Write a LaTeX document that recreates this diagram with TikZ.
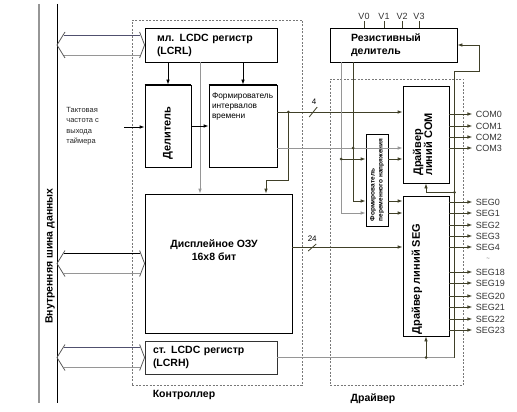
\documentclass[tikz,border=0pt]{standalone}
\usepackage{fontspec}
\setmainfont{Liberation Sans}
\usetikzlibrary{arrows.meta}
\usetikzlibrary{calc}
\usetikzlibrary{positioning}

\definecolor{wire}{RGB}{64,64,40}
\definecolor{graywire}{RGB}{150,150,150}
\definecolor{busdark}{RGB}{80,80,110}
\definecolor{framegray}{RGB}{120,120,120}

\tikzset{
	blk/.style={draw, inner sep=0pt},
	regbox/.style={draw, align=left, inner ysep=0pt, font=\bfseries\fontsize{10.5}{13}\selectfont},
	boldtxt/.style={inner sep=0pt, font=\bfseries\fontsize{10.5}{13}\selectfont},
	vtxt/.style={rotate=90, align=left, inner sep=0pt, font=\bfseries\fontsize{11}{11}\selectfont},
	smalltxt/.style={align=left, inner sep=0pt, font=\fontsize{8.3}{10}\selectfont},
	outlbl/.style={anchor=west, inner sep=0pt, xshift=3pt, text=black!80, font=\fontsize{9}{9}\selectfont},
	frame/.style={draw=framegray, dash pattern=on 2pt off 1.5pt},
	dot/.style={fill, circle, inner sep=0pt, minimum size=3pt},
}

\begin{document}
\begin{tikzpicture}[x=1pt, y=-1pt, line width=0.8pt, line join=miter, >={Latex[length=5pt,width=3.6pt]}]
	\useasboundingbox (0,0) rectangle (517,412);

	% frames
	\node[frame, minimum width=170pt, minimum height=365pt] (ctrl) at (217,202.5) {};
	\node[frame, minimum width=133pt, minimum height=306pt] (drv) at (396.5,232) {};
	\node[boldtxt] (ctrllbl) at ($(ctrl.south)+(-33,9.5)$) {Контроллер};
	\node[boldtxt] (drvlbl) at ($(drv.south)+(-23.5,13)$) {Драйвер};

	% bus
	\coordinate (busT) at (57,4);
	\coordinate (busB) at (57,403);
	\draw[graywire, line width=2pt] ($(busT)+(-18,0)$) -- ($(busB)+(-18,0)$);
	\draw (busT) -- (busB);
	\node[rotate=90, boldtxt] (buslbl) at (50,256) {Внутренняя шина данных};

	% controller blocks
	\node[regbox, minimum width=132pt, minimum height=34pt, inner xsep=12pt, text width=108pt] (lcrl) at (211,45) {мл. LCDC регистр\\(LCRL)};
	\node[blk, minimum width=46pt, minimum height=82pt] (del) at (168,126) {};
	\node[vtxt] (deltxt) at (168,133) {Делитель};
	\node[blk, minimum width=68pt, minimum height=82pt] (ftime) at (243,126) {};
	\node[smalltxt, anchor=north west] (ftimetxt) at ($(ftime.north west)+(3,8)$) {Формирователь\\интервалов\\времени};
	\draw[line width=2pt] (del.north west) -- (del.north east);
	\draw[line width=2pt] (ftime.north west) -- (ftime.north east);
	\node[blk, minimum width=147pt, minimum height=139pt] (ram) at (218.5,263.5) {};
	\node[boldtxt, align=center] (ramtxt) at (214,250) {Дисплейное ОЗУ\\16x8 бит};
	\node[regbox, draw=black!80, minimum width=132pt, minimum height=33pt, inner xsep=8pt, text width=116pt] (lcrh) at (211,357.5) {ст. LCDC регистр\\(LCRH)};

	% driver blocks
	\node[regbox, minimum width=127pt, minimum height=34pt, inner xsep=21pt, text width=85pt] (rdiv) at (393.5,45) {Резистивный\\делитель};
	\node[blk, minimum width=46pt, minimum height=97pt] (com) at (426,134.5) {};
	\node[vtxt] (comtxt) at (422.5,144.5) {Драйвер\\линий COM};
	\node[blk, minimum width=22pt, minimum height=92pt] (fvolt) at (377,180) {};
	\node[vtxt, font=\bfseries\fontsize{6.5}{8}\selectfont] (fvolttxt) at (fvolt) {Формирователь\\переменного напряжения};
	\node[blk, minimum width=46pt, minimum height=140pt] (seg) at (426,266) {};
	\node[vtxt] (segtxt) at (417,279) {Драйвер линий SEG};

	% bus arrows
	\foreach \b/\c in {lcrl/busdark, ram/black, lcrh/busdark}{
		\coordinate (tip) at (busT |- \b.west);
		\draw[\c] ($(tip)+(7,-10)$) -- ($(\b.west)+(-5,-10)$);
		\draw[graywire] ($(tip)+(7,10)$) -- ($(\b.west)+(-5,10)$);
		\draw[black!65] ($(tip)+(8,-13)$) -- (tip) -- ($(tip)+(8,13)$);
		\draw[black!65] ($(\b.west)+(-5,-13)$) -- (\b.west) -- ($(\b.west)+(-5,13)$);
	}

	% clock input
	\node[smalltxt, anchor=north west, text=black!85, font=\fontsize{7.5}{10.3}\selectfont] (clktxt) at (66,107) {Тактовая\\частота с\\выхода\\таймера};
	\coordinate (clkin) at (124,127);
	\draw[->] (clkin) -- (clkin -| del.west);

	% controller wiring
	\draw[->] (lcrl.south -| del.north) -- (del.north);
	\draw[->] (lcrl.south -| ftime.north) -- (ftime.north);
	\coordinate (lr) at ($(lcrl.south)+(-11,0)$);
	\draw[->, graywire] (lr) -- (lr |- ram.north);
	\draw[->] (del.east) -- (ftime.west);

	% timer outputs
	\coordinate (f1) at ($(ftime.east)+(0,-14)$);
	\coordinate (f2) at ($(ftime.east)+(0,22)$);
	\draw[->, wire] (f1) -- (f1 -| com.west) coordinate[pos=0.286] (s4);
	\draw[wire] ($(s4)+(-4,5)$) -- ($(s4)+(4,-5)$);
	\node[inner sep=0pt, font=\fontsize{8}{8}\selectfont] (n4) at ($(s4)+(1,-10)$) {4};
	\node[dot, wire] (d1) at ($(f1)+(11,0)$) {};
	\draw[->, wire] (d1.center) -- ++(0,68) -| ([xshift=47.5pt]ram.north);
	\draw[->, graywire] (f2) -- (f2 -| com.west);

	% resistive divider taps
	\coordinate (r1) at ($(rdiv.south)+(-52.5,0)$);
	\coordinate (r2) at ($(rdiv.south)+(-40.5,0)$);
	\draw[->, wire] (r2) |- ([yshift=-21pt]fvolt.west);
	\node[dot, wire] (d2) at (r2 |- f2) {};
	\draw[->, graywire] (r1) |- ([yshift=-33pt]fvolt.west);
	\coordinate (fv1) at ([yshift=21pt]fvolt.west);
	\node[dot, wire] (d3) at (r1 |- fv1) {};
	\draw[->, wire] (d3.center) -- (fv1);

	% voltage former outputs
	\coordinate (fo1) at ([yshift=21pt]fvolt.east);
	\coordinate (fo2) at ([yshift=-21pt]fvolt.east);
	\coordinate (fo3) at ([yshift=-33pt]fvolt.east);
	\draw[->, wire] (fo1) -- (fo1 -| com.west);
	\draw[->, wire] (fo2) -- (fo2 -| seg.west);
	\draw[->, wire] (fo3) -- (fo3 -| seg.west);

	% RAM to SEG
	\coordinate (m1) at ([yshift=16.5pt]ram.east);
	\draw[->, wire] (m1) -- (m1 -| seg.west) coordinate[pos=0.18] (s24);
	\draw[wire] ($(s24)+(-4,4)$) -- ($(s24)+(4,-3)$);
	\node[inner sep=0pt, font=\fontsize{8}{8}\selectfont] (n24) at ($(s24)+(0,-8)$) {24};

	% LCRH wiring
	\coordinate (hr) at ($(lcrh.east -| seg.east)+(5,0)$);
	\coordinate (rup) at ($(rdiv.south east)+(-3,9)$);
	\draw[graywire] (lcrh.east) -- (hr);
	\draw[->, wire] (hr) -- (rup) -- ++(25,0) |- (rdiv.east);
	\node[dot, wire] (d4) at (lcrh.east -| seg.south) {};
	\draw[->, wire] (d4.center) -- (seg.south);
	\coordinate (cj) at ($(com.south -| hr)+(0,9)$);
	\node[dot, wire] (d5) at (cj) {};
	\draw[->, wire] (d5.center) -| (com.south);

	% supply inputs
	\foreach \v/\dx in {0/-29.5,1/-9.5,2/8.5,3/25.5}
		\draw[wire] ($(rdiv.north)+(\dx,0)$) -- ++(0,-7) node[above, inner sep=1pt, text=black!80, font=\fontsize{9}{9}\selectfont] {V\v};

	% outputs
	\foreach \i/\dy in {0/-20.5,1/-8.5,2/2.5,3/13.5}
		\draw[->, wire] ($(com.east)+(0,\dy)$) -- ++(23,0) node[outlbl] {COM\i};
	\foreach \i/\dy in {0/-64,1/-53,2/-41,3/-30,4/-19,18/6,19/17,20/30,21/41,22/53,23/64}
		\draw[->, wire] ($(seg.east)+(0,\dy)$) -- ++(23,0) node[outlbl] {SEG\i};
	\node[inner sep=0pt, text=black!60, font=\fontsize{6}{6}\selectfont] (gap) at (488,259) {\textasciitilde};
\end{tikzpicture}
\end{document}
